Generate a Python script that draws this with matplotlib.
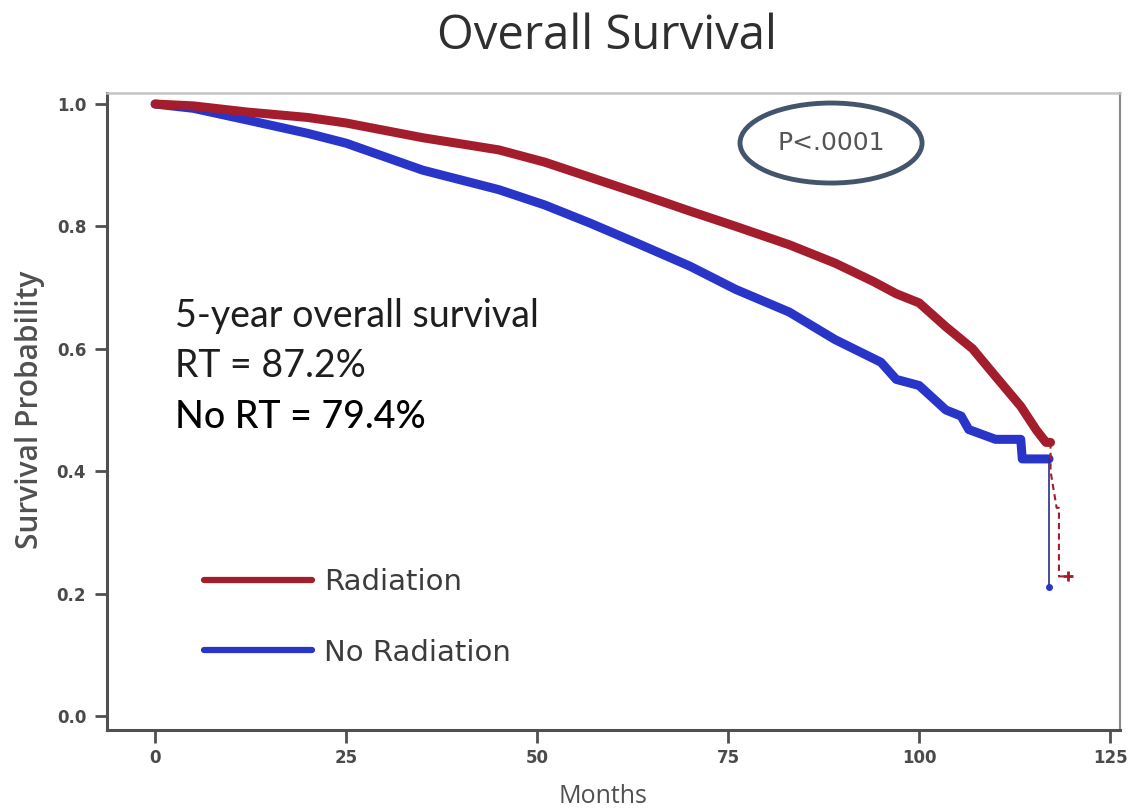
import numpy as np
import matplotlib.pyplot as plt
from matplotlib.patches import Ellipse

# values
rt_months = [0, 5, 12, 20, 25, 35, 45, 51, 57, 63, 70, 76, 83, 89, 94, 97, 100, 103.5, 107, 110, 113.3, 115.3, 116.6, 117.2]
rt_surv = [1.0, 0.997, 0.987, 0.978, 0.969, 0.945, 0.925, 0.905, 0.88, 0.855, 0.825, 0.80, 0.77, 0.74, 0.71, 0.69, 0.675, 0.636, 0.60, 0.555, 0.506, 0.468, 0.447, 0.447]
rt_tail_months = [117.2, 117.2, 118.0, 118.3, 118.3, 119.5]
rt_tail_surv = [0.447, 0.40, 0.34, 0.34, 0.228, 0.228]

nort_months = [0, 5, 12, 20, 25, 35, 45, 51, 57, 63, 70, 76, 83, 89, 95, 97, 100, 103.5, 105.5, 106.5, 110, 113.3, 113.5, 117]
nort_surv = [1.0, 0.993, 0.974, 0.952, 0.936, 0.892, 0.86, 0.835, 0.805, 0.773, 0.735, 0.697, 0.66, 0.615, 0.578, 0.55, 0.54, 0.50, 0.49, 0.468, 0.452, 0.452, 0.42, 0.42]
nort_tail_months = [117, 117]
nort_tail_surv = [0.42, 0.21]

series_labels = ['Radiation', 'No Radiation']
x_ticks = [0, 25, 50, 75, 100, 125]
y_ticks = [0.0, 0.2, 0.4, 0.6, 0.8, 1.0]
note_lines = ['5-year overall survival', 'RT = 87.2%', 'No RT = 79.4%']
p_text = 'P<.0001'

RED = '#a41d2d'
BLUE = '#2835c8'
GREY = '#505050'

fig = plt.figure(figsize=(11.3, 8.11), dpi=100)
ax = fig.add_axes([0.0947, 0.0999, 0.8965, 0.7854])

ax.plot(rt_months, rt_surv, color=RED, lw=6.5, solid_capstyle='round', label=series_labels[0], zorder=3)
ax.plot(rt_tail_months, rt_tail_surv, color=RED, lw=1.5, ls=(0, (3, 2)), zorder=3)
ax.plot(nort_months, nort_surv, color=BLUE, lw=6.5, solid_capstyle='round', label=series_labels[1], zorder=2)
ax.plot(nort_tail_months, nort_tail_surv, color='#2a2f8a', lw=1.2, zorder=2)
ax.plot([nort_tail_months[-1]], [nort_tail_surv[-1]], marker='o', ms=4, color=BLUE)
ax.plot([rt_tail_months[-1]], [rt_tail_surv[-1]], marker='+', ms=7, mew=2, color=RED)

ax.set_xlim(-6.3, 126.3)
ax.set_ylim(-0.023, 1.018)
ax.set_xticks(x_ticks)
ax.set_yticks(y_ticks)
ax.set_xticklabels([str(t) for t in x_ticks])
ax.set_yticklabels(['%.1f' % t for t in y_ticks])
ax.tick_params(axis='both', direction='out', length=9, width=2, color=GREY,
               labelsize=12, labelcolor='#4a4a4a')
for lab in ax.get_xticklabels() + ax.get_yticklabels():
    lab.set_fontweight('bold')
ax.tick_params(axis='x', pad=5)
ax.tick_params(axis='y', pad=6)

ax.spines['left'].set_color(GREY)
ax.spines['bottom'].set_color(GREY)
ax.spines['left'].set_linewidth(2.2)
ax.spines['bottom'].set_linewidth(2.2)
ax.spines['top'].set_color('#c4c4c4')
ax.spines['top'].set_linewidth(1.8)
ax.spines['right'].set_color('#8a8a8a')
ax.spines['right'].set_linewidth(1.5)

ax.set_xlabel('Months', fontsize=18, color=GREY, family='Open Sans', fontweight='medium')
ax.xaxis.set_label_coords(0.49, -0.085)
ax.set_ylabel('Survival Probability', fontsize=21.5, color=GREY, family='Open Sans',
              fontweight='semibold')
ax.yaxis.set_label_coords(-0.061, 0.502)

fig.text(0.537, 0.955, 'Overall Survival', fontsize=34, color='#2f2f2f', family='Open Sans',
         ha='center', va='center')

ax.text(0.067, 0.650, note_lines[0], transform=ax.transAxes, fontsize=27,
        family='Lato', color='#1e1e1e', va='center')
ax.text(0.067, 0.571, note_lines[1], transform=ax.transAxes, fontsize=27,
        family='Lato', color='#1e1e1e', va='center')
ax.text(0.067, 0.490, note_lines[2], transform=ax.transAxes, fontsize=27,
        family='Lato', fontweight='medium', color='#000000', va='center')

ax.add_patch(Ellipse((0.7147, 0.9215), 0.1797, 0.1256, transform=ax.transAxes,
                     fill=False, edgecolor='#44546a', lw=3.5, zorder=5))
ax.text(0.7147, 0.9215, p_text, transform=ax.transAxes, fontsize=18,
        color='#555555', ha='center', va='center', zorder=6)

leg = ax.legend(loc='upper left', bbox_to_anchor=(0.070, 0.295), frameon=False,
                fontsize=21, handlelength=3.7, handletextpad=0.4, labelspacing=1.45)
for t in leg.get_texts():
    t.set_color('#3c3c3c')
for h in leg.get_lines():
    h.set_linewidth(4.5)
    h.set_solid_capstyle('round')

fig.savefig('out.png', dpi=100, facecolor='white')
